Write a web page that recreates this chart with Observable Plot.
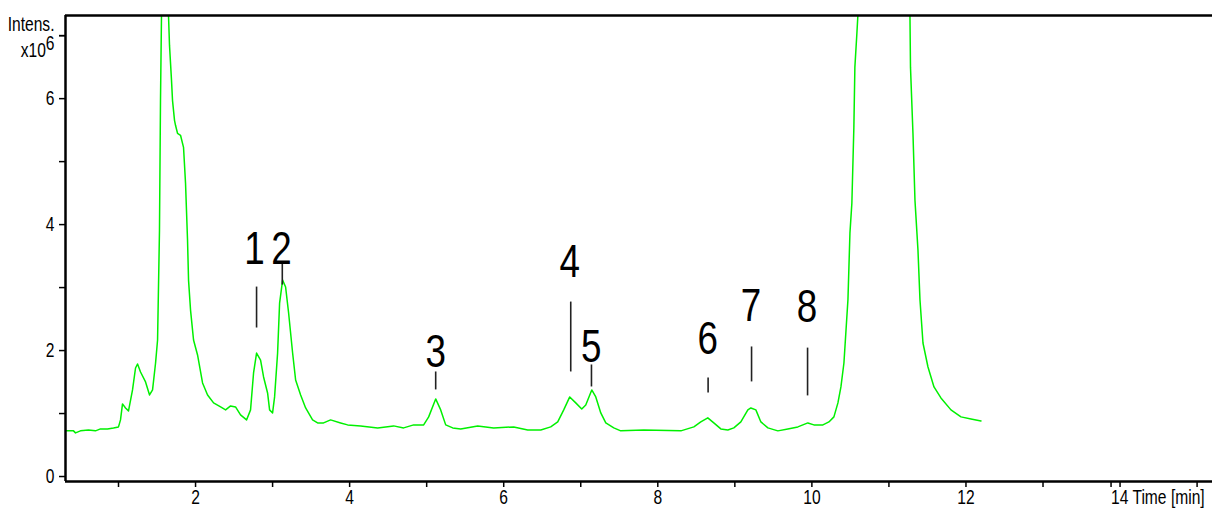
<!DOCTYPE html>
<html>
<head>
<meta charset="utf-8">
<script src="https://cdn.jsdelivr.net/npm/d3@7"></script>
<script src="https://cdn.jsdelivr.net/npm/@observablehq/plot@0.6"></script>
<style>
  html, body { margin: 0; padding: 0; background: #fff; }
  #chart { width: 1212px; height: 512px; }
</style>
</head>
<body>
<div id="chart"></div>
<script>
// Chromatogram trace (time in min, intensity in 10^6)
const time = [0.312,0.416,0.442,0.506,0.610,0.701,0.766,0.857,0.935,1.000,1.026,1.052,1.091,1.130,1.182,1.221,1.247,1.286,1.351,1.403,1.442,1.481,1.507,1.532,1.545,1.558,1.597,1.649,1.662,1.688,1.701,1.727,1.740,1.766,1.805,1.844,1.870,1.896,1.909,1.935,1.974,2.026,2.091,2.156,2.234,2.325,2.390,2.455,2.519,2.584,2.662,2.714,2.753,2.792,2.844,2.883,2.935,2.961,3.000,3.026,3.065,3.091,3.130,3.169,3.208,3.260,3.299,3.364,3.429,3.519,3.584,3.662,3.753,3.883,3.974,4.143,4.364,4.571,4.701,4.831,4.961,5.026,5.117,5.182,5.247,5.338,5.442,5.662,5.870,6.130,6.312,6.481,6.610,6.701,6.779,6.857,6.935,7.013,7.065,7.143,7.195,7.260,7.325,7.429,7.519,7.818,8.299,8.468,8.558,8.649,8.727,8.818,8.909,8.987,9.078,9.169,9.208,9.273,9.338,9.429,9.558,9.688,9.818,9.948,10.026,10.143,10.221,10.286,10.338,10.377,10.416,10.468,10.494,10.519,10.545,10.558,10.584,10.597,10.935,11.273,11.280,11.312,11.338,11.377,11.403,11.442,11.507,11.585,11.675,11.805,11.935,12.065,12.195];
const intensity = [0.725,0.725,0.693,0.725,0.740,0.725,0.756,0.756,0.772,0.788,0.899,1.153,1.089,1.042,1.375,1.723,1.787,1.660,1.502,1.295,1.375,1.803,2.167,3.912,5.973,7.320,9.5,7.320,6.845,6.290,5.973,5.656,5.577,5.450,5.418,5.227,4.657,3.753,3.119,2.643,2.167,1.930,1.486,1.295,1.169,1.105,1.058,1.121,1.105,0.978,0.899,1.058,1.644,1.961,1.850,1.581,1.327,1.058,1.010,1.264,1.961,2.754,3.119,3.008,2.596,1.961,1.533,1.295,1.089,0.899,0.851,0.851,0.899,0.851,0.820,0.804,0.772,0.804,0.772,0.820,0.820,0.947,1.232,1.058,0.820,0.772,0.756,0.804,0.772,0.788,0.740,0.740,0.788,0.867,1.058,1.264,1.169,1.073,1.137,1.375,1.264,1.010,0.851,0.772,0.725,0.740,0.725,0.788,0.867,0.931,0.851,0.756,0.740,0.772,0.867,1.058,1.089,1.058,0.867,0.772,0.725,0.756,0.788,0.851,0.820,0.820,0.867,0.947,1.169,1.422,1.803,2.806,3.864,4.340,5.545,6.496,7.035,7.320,14.0,7.320,6.496,5.450,4.387,3.594,2.806,2.120,1.739,1.422,1.248,1.058,0.947,0.915,0.883];

// Peak annotations
const peakNames = ["1","2","3","4","5","6","7","8"];
const peakTime = [2.792,3.126,5.117,6.870,7.139,8.653,9.217,9.944];
const markerTop = [3.008,3.404,1.660,2.770,1.771,1.565,2.057,2.039];
const markerBottom = [2.358,3.040,1.375,1.660,1.422,1.327,1.502,1.280];
const labelTime = [2.766,3.117,5.117,6.857,7.136,8.649,9.208,9.935];
const labelIntensity = [3.61,3.61,1.969,3.396,2.048,2.175,2.699,2.691];

// Axes
const xDomain = [0.312, 15.2];
const yDomain = [-0.079, 7.32];
const xTicks = [1,2,3,4,5,6,7,8,9,10,11,12,13,14,15];
const xTickLabels = {2:"2",4:"4",6:"6",8:"8",10:"10",12:"12"};
const xLastTick = [14];
const xLastLabel = "14 Time [min]";
const yTicks = [0,1,2,3,4,5,6,7];
const yTickLabels = {0:"0",2:"2",4:"4",6:"6"};
const yUnitTick = [7];
const yUnitLabel = "Intens.\nx106";

const trace = time.map((t, i) => ({t, v: intensity[i]}));
const peaks = peakNames.map((n, i) => ({n, t: peakTime[i], y1: markerBottom[i], y2: markerTop[i], lt: labelTime[i], lv: labelIntensity[i]}));

const axisFont = 19.5;

const chart = Plot.plot({
  width: 1212,
  height: 512,
  marginLeft: 65,
  marginRight: 0,
  marginTop: 15,
  marginBottom: 31,
  style: {fontFamily: "'Liberation Sans', Arial, sans-serif", fontSize: "19px", color: "#000", background: "#fff"},
  x: {domain: xDomain},
  y: {domain: yDomain},
  marks: [
    Plot.line(trace, {x: "t", y: "v", stroke: "#00f000", strokeWidth: 1.5, clip: true}),
    Plot.ruleX(peaks, {x: "t", y1: "y1", y2: "y2", stroke: "#222", strokeWidth: 1.6}),
    Plot.text(peaks, {x: "lt", y: "lv", text: "n", fontSize: 46, fill: "#000", lineAnchor: "middle"}),
    Plot.axisX(xTicks, {tickSize: 6, tickPadding: 3, strokeWidth: 1.5, fontSize: axisFont, tickFormat: d => xTickLabels[d] ?? ""}),
    Plot.axisX(xLastTick, {tickSize: 6, tickPadding: 3, strokeWidth: 1.5, fontSize: axisFont, textAnchor: "start", dx: -9, tickFormat: () => xLastLabel}),
    Plot.axisY(yTicks, {tickSize: 6, tickPadding: 5, strokeWidth: 1.5, fontSize: axisFont, tickFormat: d => yTickLabels[d] ?? ""}),
    Plot.axisY(yUnitTick, {tickSize: 6, tickPadding: 5, strokeWidth: 1.5, fontSize: axisFont, lineHeight: 1.35, tickFormat: () => yUnitLabel}),
    Plot.ruleX([xDomain[0]], {stroke: "#000", strokeWidth: 2.5}),
    Plot.ruleY([yDomain[0]], {stroke: "#000", strokeWidth: 2.5}),
    Plot.ruleY([yDomain[1]], {stroke: "#000", strokeWidth: 2.5})
  ]
});

// raise the exponent in the unit label
d3.select(chart).selectAll("tspan").each(function() {
  if (this.textContent === "x106") {
    this.textContent = "x10";
    const sup = document.createElementNS("http://www.w3.org/2000/svg", "tspan");
    sup.setAttribute("dy", "-0.35em");
    sup.textContent = "6";
    this.appendChild(sup);
  }
});

document.getElementById("chart").appendChild(chart);

// condense glyphs to mimic a narrow sans face
const narrow = 0.8;
d3.select(chart).selectAll("text").each(function() {
  const spans = this.querySelectorAll(":scope > tspan");
  const targets = spans.length ? Array.from(spans) : [this];
  targets.forEach(el => {
    const len = el.getComputedTextLength();
    if (len > 0) {
      el.setAttribute("textLength", (len * narrow).toFixed(2));
      el.setAttribute("lengthAdjust", "spacingAndGlyphs");
    }
  });
});
</script>
</body>
</html>
